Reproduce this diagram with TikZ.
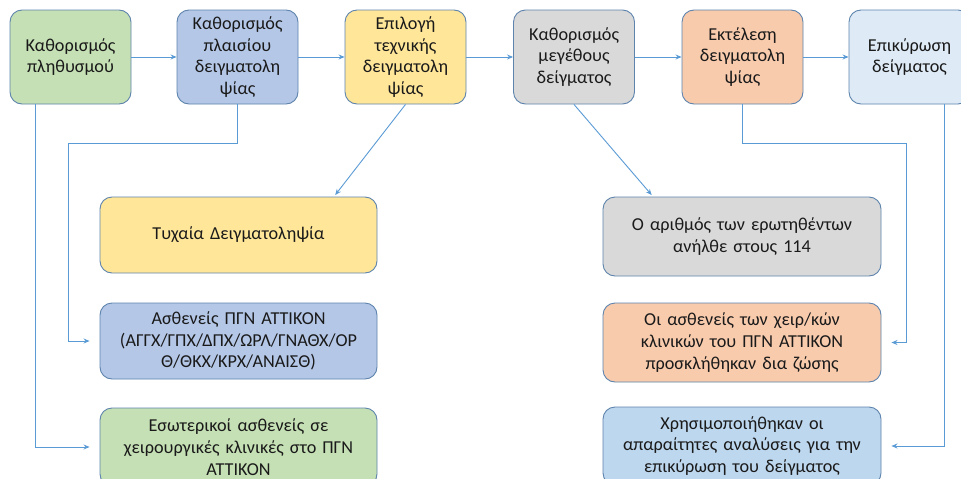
\documentclass[tikz,border=0pt]{standalone}
\usepackage{fontspec}
\setmainfont{Carlito}
\usetikzlibrary{arrows.meta}
\definecolor{cgreen}{HTML}{C5E0B4}
\definecolor{cblue}{HTML}{B4C7E7}
\definecolor{cyellow}{HTML}{FFE699}
\definecolor{cgrey}{HTML}{D9D9D9}
\definecolor{corange}{HTML}{F8CBAD}
\definecolor{clight}{HTML}{DEEBF7}
\definecolor{csky}{HTML}{BDD7EE}
\definecolor{cborder}{HTML}{5E84AD}
\definecolor{carrow}{HTML}{5B9BD5}
\definecolor{ctext}{HTML}{1A1A1A}
\begin{document}
\begin{tikzpicture}[x=1pt,y=-1pt,
  box/.style={draw=cborder, line width=0.9pt, rounded corners=12pt, align=center,
    text=ctext, font=\fontsize{18.2}{21.8}\selectfont, inner sep=2pt},
  topbox/.style={box, minimum width=121pt, minimum height=94pt, text width=117pt},
  lowbox/.style={box, minimum width=277pt, minimum height=76pt, text width=268pt},
  arr/.style={draw=carrow, line width=0.9pt, -{Stealth[length=6pt,width=5pt]}}]
\clip (0,0) rectangle (961,479);
\fill[white] (0,0) rectangle (961,479);
% top row
\node[topbox, fill=cgreen] (b1) at (70.5,57) {Καθορισμός\\πληθυσμού};
\node[topbox, fill=cblue] (b2) at (237.5,57) {Καθορισμός\\πλαισίου\\δειγματολη\\ψίας};
\node[topbox, fill=cyellow] (b3) at (405.5,57) {Επιλογή\\τεχνικής\\δειγματολη\\ψίας};
\node[topbox, fill=cgrey] (b4) at (574,57) {Καθορισμός\\μεγέθους\\δείγματος};
\node[topbox, fill=corange] (b5) at (742.5,57) {Εκτέλεση\\δειγματολη\\ψίας};
\node[topbox, fill=clight] (b6) at (909.5,57) {Επικύρωση\\δείγματος};
% left column
\node[lowbox, fill=cyellow] (l1) at (238.5,235) {Τυχαία Δειγματοληψία};
\node[lowbox, fill=cblue] (l2) at (238.5,341) {Ασθενείς ΠΓΝ ΑΤΤΙΚΟΝ\\(ΑΓΓΧ/ΓΠΧ/ΔΠΧ/ΩΡΛ/ΓΝΑΘΧ/ΟΡ\\Θ/ΘΚΧ/ΚΡΧ/ΑΝΑΙΣΘ)};
\node[lowbox, fill=cgreen, minimum height=78pt] (l3) at (238.5,447) {Εσωτερικοί ασθενείς σε\\χειρουργικές κλινικές στο ΠΓΝ\\ΑΤΤΙΚΟΝ};
% right column
\node[lowbox, fill=cgrey, minimum width=278pt, minimum height=79pt] (r1) at (742,236.5) {Ο αριθμός των ερωτηθέντων\\ανήλθε στους 114};
\node[lowbox, fill=corange, minimum width=278pt, minimum height=79pt] (r2) at (742,342.5) {Οι ασθενείς των χειρ/κών\\κλινικών του ΠΓΝ ΑΤΤΙΚΟΝ\\προσκλήθηκαν δια ζώσης};
\node[lowbox, fill=csky, minimum width=278pt, minimum height=78pt] (r3) at (742,446) {Χρησιμοποιήθηκαν οι\\απαραίτητες αναλύσεις για την\\επικύρωση του δείγματος};
% horizontal connectors
\draw[arr] (b1.east) -- (b2.west);
\draw[arr] (b2.east) -- (b3.west);
\draw[arr] (b3.east) -- (b4.west);
\draw[arr] (b4.east) -- (b5.west);
\draw[arr] (b5.east) -- (b6.west);
% down connectors
\draw[arr] ([xshift=-35.5pt]b1.south) |- ([xshift=-10pt]l3.west);
\draw[arr] (b2.south) -- ++(0,39) -| ([xshift=-31.5pt]l2.west) -- ([xshift=-10pt]l2.west);
\draw[arr, shorten >=2pt] (b3.south) -- ([xshift=95.5pt]l1.north);
\draw[arr, shorten >=2pt] (b4.south) -- ([xshift=-89pt]r1.north);
\draw[arr] (b5.south) -- ++(0,39) -| ([xshift=25pt]r2.east) -- ([xshift=10pt]r2.east);
\draw[arr] ([xshift=34.5pt]b6.south) |- ([xshift=10pt]r3.east);
\end{tikzpicture}
\end{document}
